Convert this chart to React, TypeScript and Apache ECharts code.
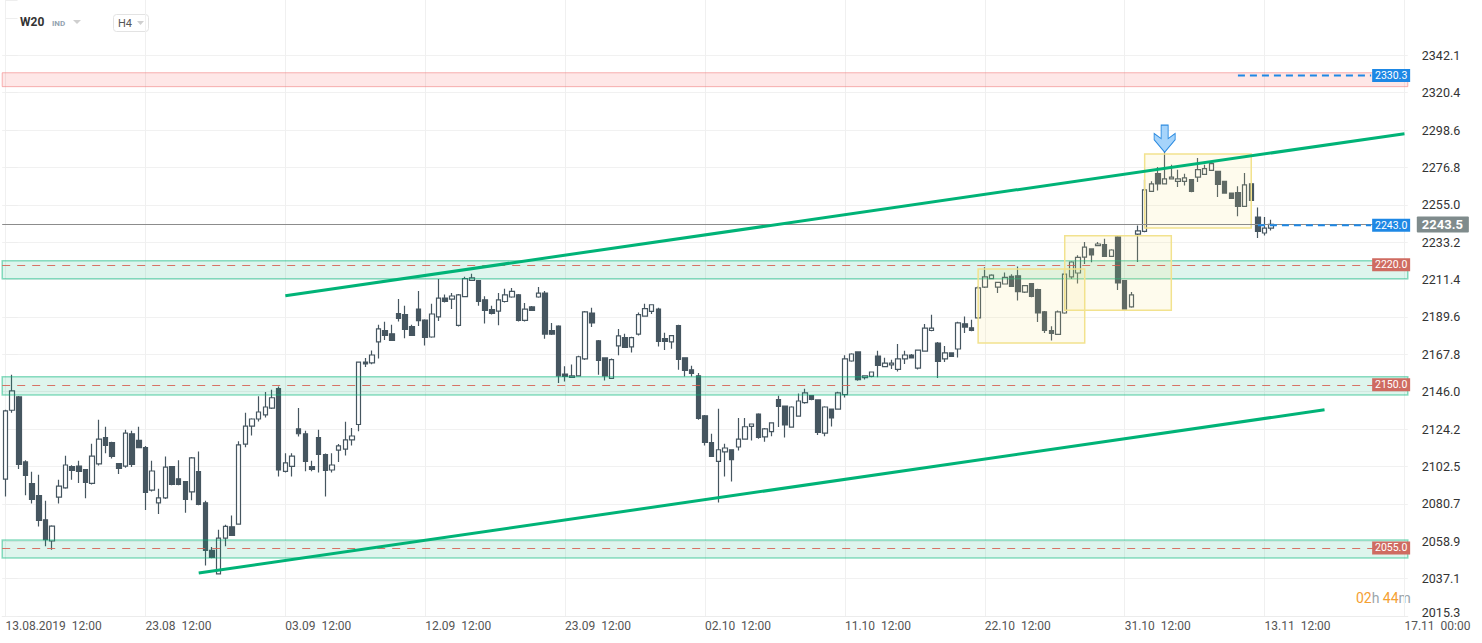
import React, { useEffect, useRef } from 'react';
import * as echarts from 'echarts';

// ---- data ----
const opens = [
  2095.1, 2135.2, 2143.0, 2105.1, 2092.4, 2085.4, 2071.4, 2059.0, 2084.6, 2090.0,
  2102.3, 2102.7, 2100.6, 2092.6, 2103.9, 2119.2, 2116.3, 2104.1, 2102.7, 2121.5,
  2117.6, 2113.4, 2088.7, 2081.2, 2084.1, 2102.3, 2095.3, 2093.6, 2087.6, 2099.4,
  2081.3, 2053.5, 2039.8, 2060.7, 2067.3, 2068.9, 2115.5, 2126.0, 2130.1, 2132.5,
  2136.5, 2147.8, 2099.6, 2102.5, 2124.3, 2121.5, 2102.3, 2119.2, 2109.3, 2100.4,
  2112.0, 2112.6, 2117.9, 2126.9, 2163.3, 2162.8, 2175.0, 2181.6, 2179.8, 2191.5,
  2190.9, 2183.9, 2194.2, 2187.8, 2177.9, 2189.6, 2200.6, 2200.0, 2184.7, 2201.4,
  2210.9, 2210.7, 2199.6, 2193.8, 2193.0, 2198.6, 2201.2, 2202.5, 2187.6, 2195.4,
  2201.2, 2203.5, 2181.6, 2184.3, 2156.3, 2154.4, 2155.3, 2165.1, 2191.9, 2175.7,
  2165.7, 2153.8, 2172.7, 2177.5, 2172.2, 2179.6, 2190.1, 2192.8, 2194.2, 2176.9,
  2175.0, 2184.5, 2165.8, 2158.8, 2155.3, 2132.0, 2116.3, 2105.4, 2110.9, 2112.2,
  2113.8, 2118.4, 2125.8, 2133.0, 2119.7, 2122.7, 2141.4, 2137.7, 2125.4, 2131.8,
  2139.6, 2143.7, 2141.2, 2121.9, 2135.9, 2135.9, 2144.3, 2163.9, 2169.2, 2154.2,
  2154.9, 2166.8, 2160.6, 2161.7, 2159.0, 2165.1, 2167.4, 2159.8, 2169.7, 2181.7,
  2174.4, 2165.1, 2168.6, 2170.9, 2185.6, 2183.3, 2189.0, 2207.0, 2211.9, 2207.0,
  2208.8, 2213.2, 2213.6, 2204.1, 2209.0, 2205.5, 2192.6, 2181.6, 2179.4, 2191.9,
  2212.9, 2215.2, 2224.5, 2229.2, 2231.1, 2231.7, 2224.9, 2236.2, 2210.7, 2195.4,
  2237.9, 2239.4, 2262.8, 2273.1, 2267.1, 2270.0, 2268.6, 2268.6, 2269.7, 2271.1,
  2272.7, 2275.0, 2274.4, 2268.6, 2261.8, 2262.0, 2254.0, 2267.2, 2247.8, 2238.5,
  2241.4,
];
const highs = [
  2135.5, 2155.9, 2143.5, 2106.0, 2099.4, 2097.6, 2082.5, 2068.2, 2094.7, 2108.7,
  2103.1, 2105.8, 2101.0, 2115.7, 2129.7, 2125.6, 2116.8, 2104.5, 2123.9, 2123.3,
  2125.6, 2114.4, 2105.8, 2089.5, 2108.2, 2102.5, 2106.0, 2094.0, 2108.0, 2111.2,
  2082.5, 2055.5, 2065.6, 2068.5, 2073.9, 2117.1, 2133.8, 2130.5, 2143.3, 2145.9,
  2147.2, 2149.1, 2110.2, 2110.2, 2136.5, 2123.3, 2105.8, 2123.9, 2110.0, 2110.2,
  2115.5, 2128.5, 2124.9, 2163.5, 2165.7, 2170.1, 2185.1, 2186.8, 2185.1, 2200.0,
  2196.1, 2185.1, 2204.7, 2188.2, 2197.3, 2211.7, 2202.7, 2203.5, 2203.0, 2213.0,
  2214.8, 2211.0, 2201.6, 2196.1, 2203.5, 2206.0, 2206.4, 2203.0, 2197.7, 2196.0,
  2207.0, 2204.7, 2186.1, 2184.7, 2160.8, 2161.8, 2167.0, 2193.0, 2195.0, 2176.2,
  2166.0, 2165.4, 2182.6, 2179.8, 2178.0, 2192.2, 2197.3, 2197.0, 2195.0, 2180.4,
  2179.0, 2185.1, 2166.0, 2161.2, 2156.9, 2132.5, 2121.5, 2136.1, 2115.7, 2112.5,
  2130.7, 2130.7, 2127.5, 2133.5, 2124.8, 2128.2, 2143.7, 2138.0, 2137.5, 2145.0,
  2147.8, 2144.0, 2141.5, 2137.5, 2136.2, 2146.0, 2167.2, 2168.5, 2169.5, 2155.6,
  2157.7, 2169.9, 2165.8, 2164.7, 2173.8, 2169.9, 2168.0, 2170.6, 2185.5, 2190.9,
  2175.0, 2172.6, 2169.0, 2186.8, 2189.9, 2188.0, 2207.4, 2218.5, 2214.5, 2210.0,
  2215.5, 2214.4, 2219.0, 2208.2, 2209.4, 2206.0, 2193.0, 2184.1, 2193.4, 2217.1,
  2222.0, 2225.5, 2233.3, 2229.5, 2233.3, 2235.2, 2229.0, 2236.9, 2211.0, 2204.1,
  2242.9, 2269.6, 2268.6, 2277.0, 2286.6, 2278.3, 2275.4, 2273.1, 2270.0, 2282.2,
  2278.3, 2280.2, 2274.8, 2269.0, 2262.0, 2265.7, 2273.5, 2267.5, 2253.3, 2247.8,
  2246.3,
];
const lows = [
  2085.0, 2133.8, 2101.0, 2085.6, 2080.9, 2067.5, 2055.9, 2053.9, 2080.9, 2089.5,
  2094.7, 2092.8, 2083.9, 2092.0, 2103.0, 2110.1, 2107.1, 2098.0, 2101.7, 2102.1,
  2113.0, 2077.1, 2087.9, 2074.7, 2083.5, 2091.5, 2091.5, 2075.5, 2082.7, 2079.8,
  2044.8, 2049.0, 2039.5, 2055.9, 2062.0, 2068.5, 2113.6, 2120.5, 2128.7, 2131.0,
  2136.0, 2096.6, 2099.0, 2096.6, 2119.9, 2099.6, 2099.6, 2099.0, 2085.0, 2099.0,
  2105.1, 2108.9, 2114.7, 2122.9, 2160.4, 2162.0, 2165.3, 2176.1, 2175.5, 2187.0,
  2177.1, 2178.5, 2184.3, 2173.0, 2177.5, 2187.2, 2198.0, 2194.2, 2184.0, 2201.0,
  2210.5, 2196.1, 2185.8, 2191.0, 2184.7, 2198.0, 2200.8, 2187.0, 2187.0, 2193.0,
  2200.8, 2176.9, 2179.0, 2151.1, 2152.0, 2154.0, 2155.0, 2164.5, 2183.7, 2155.9,
  2152.6, 2153.4, 2167.2, 2171.5, 2168.9, 2178.8, 2190.0, 2191.3, 2172.4, 2170.3,
  2171.1, 2158.8, 2154.9, 2154.9, 2129.7, 2114.7, 2108.0, 2081.5, 2096.6, 2093.7,
  2111.8, 2118.0, 2117.6, 2118.6, 2116.9, 2120.0, 2125.4, 2119.4, 2125.0, 2131.5,
  2139.0, 2141.0, 2120.8, 2120.0, 2125.8, 2135.5, 2142.7, 2163.5, 2152.4, 2153.2,
  2154.5, 2154.4, 2160.3, 2159.2, 2157.8, 2162.2, 2165.3, 2159.0, 2169.3, 2181.2,
  2154.0, 2163.3, 2166.2, 2166.0, 2180.2, 2181.3, 2188.5, 2206.5, 2211.5, 2203.5,
  2208.5, 2207.0, 2199.2, 2203.5, 2201.0, 2186.6, 2180.2, 2175.9, 2179.0, 2191.5,
  2211.7, 2209.1, 2220.4, 2221.4, 2230.8, 2224.5, 2224.5, 2205.3, 2193.8, 2195.0,
  2221.6, 2239.0, 2262.5, 2263.3, 2266.8, 2269.7, 2265.3, 2266.2, 2262.2, 2268.2,
  2272.5, 2274.7, 2259.5, 2261.5, 2258.4, 2248.2, 2253.7, 2257.2, 2235.6, 2237.1,
  2240.0,
];
const closes = [
  2134.8, 2146.5, 2103.7, 2097.2, 2083.3, 2071.0, 2059.8, 2067.7, 2091.0, 2103.3,
  2100.2, 2099.6, 2093.2, 2108.5, 2118.4, 2114.7, 2108.3, 2101.3, 2121.9, 2103.7,
  2113.4, 2087.3, 2099.8, 2084.2, 2102.1, 2092.0, 2092.0, 2083.3, 2107.4, 2080.3,
  2053.5, 2049.4, 2060.7, 2067.5, 2062.3, 2115.0, 2126.0, 2130.1, 2134.2, 2137.1,
  2142.5, 2100.4, 2104.5, 2108.5, 2121.5, 2105.4, 2100.8, 2109.5, 2100.2, 2103.3,
  2114.4, 2117.9, 2120.2, 2163.3, 2162.2, 2167.4, 2182.6, 2178.8, 2175.9, 2188.7,
  2182.3, 2178.8, 2187.4, 2177.7, 2191.3, 2200.6, 2198.6, 2201.8, 2202.4, 2211.9,
  2212.3, 2198.6, 2193.4, 2191.6, 2199.5, 2202.5, 2204.5, 2187.6, 2194.2, 2193.4,
  2203.5, 2179.6, 2179.6, 2155.3, 2154.9, 2155.2, 2166.4, 2192.5, 2186.1, 2164.3,
  2155.2, 2164.7, 2178.5, 2171.8, 2177.5, 2190.9, 2194.4, 2196.7, 2175.3, 2175.3,
  2178.7, 2164.8, 2158.4, 2156.7, 2130.5, 2116.5, 2108.3, 2112.2, 2113.2, 2106.4,
  2118.4, 2125.6, 2127.2, 2119.4, 2124.3, 2127.8, 2137.5, 2126.6, 2137.1, 2140.6,
  2145.3, 2141.5, 2122.3, 2137.1, 2130.7, 2145.3, 2165.1, 2168.0, 2153.0, 2155.3,
  2157.5, 2161.3, 2162.7, 2162.7, 2165.1, 2167.4, 2165.7, 2170.3, 2183.1, 2183.1,
  2163.7, 2168.6, 2166.6, 2186.1, 2183.7, 2181.7, 2206.5, 2212.9, 2214.0, 2209.7,
  2212.6, 2207.4, 2204.3, 2207.8, 2201.6, 2191.9, 2181.7, 2180.0, 2192.5, 2214.6,
  2221.6, 2224.3, 2230.3, 2225.7, 2232.1, 2224.9, 2228.6, 2209.4, 2194.2, 2202.5,
  2239.8, 2263.7, 2267.1, 2267.1, 2270.0, 2271.1, 2270.0, 2270.6, 2262.8, 2275.4,
  2276.0, 2278.9, 2266.8, 2261.8, 2258.7, 2254.0, 2266.5, 2257.5, 2239.4, 2241.4,
  2243.5,
];

// time axis: 211 H4 slots (3 per trading day), a label every 21 slots
const slotCount = 211;
const xTickStep = 21;
const xTickLabels = [
  '13.08.2019  12:00', '23.08  12:00', '03.09  12:00', '12.09  12:00', '23.09  12:00',
  '02.10  12:00', '11.10  12:00', '22.10  12:00', '31.10  12:00', '13.11  12:00', '17.11  00:00',
];

// price axis
const yMin = 2015.3;
const yMax = 2374.3;
const yStep = 21.7867;
const yTickLabels = [
  '2015.3', '2037.1', '2058.9', '2080.7', '2102.5', '2124.2', '2146.0', '2167.8',
  '2189.6', '2211.4', '2233.2', '2255.0', '2276.8', '2298.6', '2320.4', '2342.1',
];

// annotations (slot index, price)
const lastPrice = 2243.5;
const upperTrend = [[42, 2202.0], [210, 2296.4]];
const lowerTrend = [[29, 2040.3], [198, 2135.5]];
const greenZones = [[2211.9, 2222.4], [2144.1, 2154.8], [2049.1, 2059.6]];
const redZone = [2323.8, 2331.9];
const supportLevels = [2220.0, 2150.0, 2055.0];
const blueLevels = [
  { value: 2330.3, from: 185, to: 205 },
  { value: 2243.0, from: 188, to: 205 },
];
const patternBoxes = [
  [146, 2174.4, 162, 2217.5],
  [159, 2193.5, 175, 2236.9],
  [171, 2241.4, 187, 2284.5],
];
const arrowPoint = [174, 2293.5];
const levelLabelSlot = 208;

const categories = Array.from({ length: slotCount }, (_, i) => String(i));
const candleData = opens.map((o, i) => [o, closes[i], lows[i], highs[i]]);

const CANDLE = '#465660';
const GREEN = '#00b377';
const BLUE = '#1e88e5';
const RED_LABEL = '#cf6b61';
const GRID = '#f1f1f1';

// one colour per horizontal grid line; the two above the last label stay hidden
const ySplitColors = [...yTickLabels.map(() => GRID), 'rgba(0,0,0,0)', 'rgba(0,0,0,0)'];

export default function App() {
  const ref = useRef<HTMLDivElement>(null);

  useEffect(() => {
    if (!ref.current) return;
    const chart = echarts.init(ref.current, undefined, { renderer: 'svg' });

    const levelLabel = (value: number, color: string) => ({
      coord: [levelLabelSlot, value],
      symbol: 'rect',
      symbolSize: [38, 13],
      itemStyle: { color },
      label: {
        show: true,
        position: 'inside',
        formatter: value.toFixed(1),
        color: '#ffffff',
        fontSize: 10.5,
        fontFamily: 'Roboto',
      },
    });

    const option: any = {
      animation: false,
      backgroundColor: '#ffffff',
      grid: { left: 2.2, right: 74.2, top: 0, bottom: 27, containLabel: false },
      xAxis: [
        {
          type: 'category',
          data: categories,
          boundaryGap: true,
          axisLine: { show: true, lineStyle: { color: '#ececec' } },
          axisTick: { show: false },
          axisLabel: {
            interval: (i: number) => i % xTickStep === 0,
            formatter: (_v: string, i: number) => xTickLabels[i / xTickStep] ?? '',
            align: 'left',
            color: '#555555',
            fontSize: 12,
            fontFamily: 'Roboto',
            margin: 4,
          },
          splitLine: {
            show: true,
            interval: (i: number) => i % xTickStep === 0,
            alignWithLabel: true,
            lineStyle: { color: '#f0f0f0', width: 1 },
          },
        },
        {
          type: 'value',
          min: -0.5,
          max: slotCount - 0.5,
          show: false,
          splitLine: { show: false },
        },
      ],
      yAxis: {
        type: 'value',
        position: 'right',
        min: yMin,
        max: yMax,
        interval: yStep,
        axisLine: { show: false },
        axisTick: { show: true, length: 12, lineStyle: { color: '#eeeeee' } },
        axisLabel: {
          margin: 14,
          color: '#333333',
          fontSize: 12.5,
          fontFamily: 'Roboto',
          rich: { low: { padding: [0, 0, 7, 0], fontSize: 12.5, fontFamily: 'Roboto', color: '#333333' } },
          formatter: (v: number) => {
            const k = (v - yMin) / yStep;
            const r = Math.round(k);
            if (Math.abs(k - r) > 0.02) return '';
            const t = yTickLabels[r] ?? '';
            return r === 0 && t ? '{low|' + t + '}' : t;
          },
        },
        splitLine: { show: true, lineStyle: { color: ySplitColors } },
      },
      graphic: [
        { type: 'text', x: 20, y: 22, style: { text: 'W20', fontSize: 12, fontWeight: 'bold', fontFamily: 'Roboto', fill: '#333333', verticalAlign: 'middle' } },
        { type: 'text', x: 52, y: 23, style: { text: 'IND', fontSize: 8, fontWeight: 'bold', fontFamily: 'Roboto', fill: '#93a3b0', verticalAlign: 'middle' } },
        { type: 'polygon', shape: { points: [[73, 20], [81, 20], [77, 24]] }, style: { fill: '#cfcfcf' } },
        { type: 'rect', shape: { x: 113.5, y: 14.5, width: 35, height: 17, r: 3 }, style: { fill: '#ffffff', stroke: '#e3e3e3', lineWidth: 1 } },
        { type: 'text', x: 118, y: 23, style: { text: 'H4', fontSize: 11, fontFamily: 'Roboto', fill: '#555555', verticalAlign: 'middle' } },
        { type: 'polygon', shape: { points: [[137, 21], [144, 21], [140.5, 25]] }, style: { fill: '#cfcfcf' } },
        {
          type: 'text', x: 1356, y: 598,
          style: {
            text: '{o|02}{g|h} {o|44}{g|m}',
            verticalAlign: 'middle',
            rich: {
              o: { fill: '#f5a032', fontSize: 14, fontFamily: 'Roboto' },
              g: { fill: '#9aa5ab', fontSize: 14, fontFamily: 'Roboto' },
            },
          },
        },
      ],
      series: [
        {
          name: 'W20',
          type: 'candlestick',
          xAxisIndex: 0,
          yAxisIndex: 0,
          data: candleData,
          barWidth: 5,
          z: 2,
          itemStyle: {
            color: '#ffffff',
            color0: CANDLE,
            borderColor: CANDLE,
            borderColor0: CANDLE,
            borderWidth: 1.2,
          },
          markLine: {
            silent: true,
            symbol: 'none',
            z: 4,
            lineStyle: { color: '#8c8c8c', width: 1, type: 'solid' },
            label: {
              show: true,
              position: 'end',
              distance: 9,
              formatter: lastPrice.toFixed(1),
              color: '#ffffff',
              fontWeight: 'bold',
              fontSize: 13,
              fontFamily: 'Roboto',
              backgroundColor: '#7f8b8c',
              borderRadius: 1,
              padding: [2, 6, 1, 5],
            },
            data: [{ yAxis: lastPrice }],
          },
          markPoint: {
            silent: true,
            z: 7,
            label: { show: false },
            data: [
              {
                coord: arrowPoint,
                symbol: 'path://M7,0 L14,0 L14,13 L21,8 L21,14 L10.5,26 L0,14 L0,8 L7,13 Z',
                symbolSize: [21, 27],
                itemStyle: { color: '#a6d4fb', borderColor: '#2a8ae0', borderWidth: 1 },
              },
            ],
          },
        },
        {
          name: 'upper trend',
          type: 'line',
          xAxisIndex: 1,
          yAxisIndex: 0,
          data: upperTrend,
          symbol: 'none',
          silent: true,
          z: 6,
          lineStyle: { color: GREEN, width: 3 },
          markArea: {
            silent: true,
            z: 3,
            data: [
              [
                { yAxis: redZone[0], itemStyle: { color: 'rgba(250, 60, 60, 0.12)', borderColor: 'rgba(240, 120, 120, 0.55)', borderWidth: 1 } },
                { yAxis: redZone[1] },
              ],
              ...greenZones.map((z) => [
                { yAxis: z[0], itemStyle: { color: 'rgba(0, 179, 119, 0.13)', borderColor: 'rgba(0, 179, 119, 0.45)', borderWidth: 1.5 } },
                { yAxis: z[1] },
              ]),
              ...patternBoxes.map((b) => [
                { coord: [b[0], b[1]], itemStyle: { color: 'rgba(245, 228, 130, 0.14)', borderColor: '#f2e28e', borderWidth: 1.5 } },
                { coord: [b[2], b[3]] },
              ]),
            ],
          },
          markLine: {
            silent: true,
            symbol: 'none',
            z: 3,
            label: { show: false },
            lineStyle: { color: 'rgba(214, 92, 78, 0.85)', type: [8, 7], width: 1 },
            data: supportLevels.map((v) => ({ yAxis: v })),
          },
          markPoint: {
            silent: true,
            z: 8,
            data: [
              ...supportLevels.map((v) => levelLabel(v, RED_LABEL)),
              ...blueLevels.map((l) => levelLabel(l.value, BLUE)),
            ],
          },
        },
        {
          name: 'lower trend',
          type: 'line',
          xAxisIndex: 1,
          yAxisIndex: 0,
          data: lowerTrend,
          symbol: 'none',
          silent: true,
          z: 6,
          lineStyle: { color: GREEN, width: 3 },
        },
        ...blueLevels.map((l) => ({
          name: 'level ' + l.value,
          type: 'line',
          xAxisIndex: 1,
          yAxisIndex: 0,
          data: [[l.from, l.value], [l.to, l.value]],
          symbol: 'none',
          silent: true,
          z: 6,
          lineStyle: { color: BLUE, width: 2, type: [7, 5] },
        })),
      ],
    };

    chart.setOption(option);
    return () => chart.dispose();
  }, []);

  return (
    <div
      ref={ref}
      style={{ position: 'fixed', left: 0, top: 0, width: 1482, height: 643, background: '#ffffff' }}
    />
  );
}
